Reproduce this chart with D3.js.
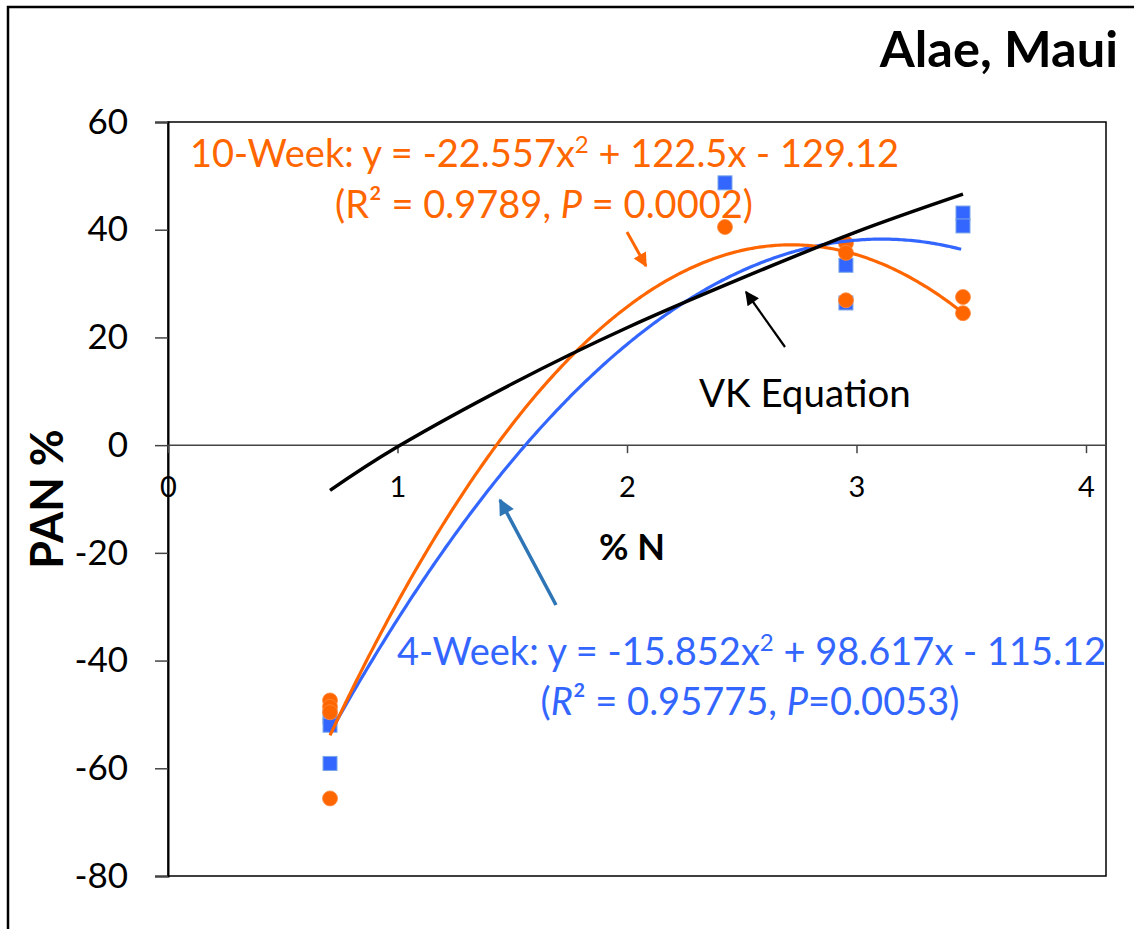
<!DOCTYPE html>
<meta charset="utf-8">
<style>
body { margin: 0; background: #fff; }
text { font-family: Lato, "Open Sans", sans-serif; }
.tick text { font-size: 35px; fill: #000; }
.xaxis .tick text { font-size: 29px; }
</style>
<svg width="1134" height="929"></svg>
<script src="https://cdn.jsdelivr.net/npm/d3@7"></script>
<script>

// data
var week4X = [0.706, 0.706, 0.706, 2.427, 2.954, 2.954, 3.464, 3.464];
var week4Y = [-50.5, -52.0, -59.1, 48.7, 33.4, 26.4, 43.1, 40.7];
var week10X = [0.706, 0.706, 0.706, 0.706, 2.427, 2.954, 2.954, 2.954, 3.464, 3.464];
var week10Y = [-47.4, -48.6, -49.6, -65.6, 40.5, 37.5, 35.7, 26.9, 27.5, 24.5];

// trendline coefficients [a, b, c] for y = a x^2 + b x + c
var week4Fit = [-15.852, 98.617, -115.12];
var week10Fit = [-22.557, 122.5, -129.12];
var fitRange = [0.706, 3.464];

// VK equation curve
var vkX = [0.706, 1.0, 1.5, 2.0, 2.5, 3.0, 3.464];
var vkY = [-8.4, -0.3, 11.4, 21.8, 31.0, 39.6, 46.6];

var xTicks = [0, 1, 2, 3, 4];
var yTicks = [-80, -60, -40, -20, 0, 20, 40, 60];

var orange = "#ff6600",
    blue = "#3366ff",
    arrowBlue = "#2e75b6";

var svg = d3.select("svg");

var x = d3.scaleLinear().domain([0, 4]).range([168, 1086]),
    y = d3.scaleLinear().domain([-80, 60]).range([876, 122]);

var plain = function(d) { return String(d); };

// outer frame
svg.append("path")
    .attr("d", "M8,929V7H1134")
    .attr("fill", "none")
    .attr("stroke", "#000")
    .attr("stroke-width", 2.5);

// plot box
svg.append("rect")
    .attr("x", 168).attr("y", 122)
    .attr("width", 1106 - 168).attr("height", 876 - 122)
    .attr("fill", "none")
    .attr("stroke", "#000")
    .attr("stroke-width", 1.5);

// y axis
var yAxis = svg.append("g")
    .attr("transform", "translate(168,0)")
    .call(d3.axisLeft(y).tickValues(yTicks).tickFormat(plain).tickSize(13).tickPadding(27));
yAxis.select(".domain").attr("stroke-width", 2);
yAxis.selectAll(".tick line").attr("stroke", "#444").attr("stroke-width", 1.5);

// x axis through y = 0
var xAxis = svg.append("g")
    .attr("class", "xaxis")
    .attr("transform", "translate(0," + y(0) + ")")
    .call(d3.axisBottom(x).tickValues(xTicks).tickFormat(plain).tickSize(8).tickPadding(23));
xAxis.select(".domain").remove();
xAxis.selectAll(".tick line").attr("stroke", "#444").attr("stroke-width", 1.5);
xAxis.append("line")
    .attr("x1", 168).attr("x2", 1106)
    .attr("stroke", "#444").attr("stroke-width", 1.5);

// markers
svg.append("g").selectAll("rect")
  .data(d3.zip(week4X, week4Y))
  .enter().append("rect")
    .attr("x", function(d) { return x(d[0]) - 7; })
    .attr("y", function(d) { return y(d[1]) - 7; })
    .attr("width", 14).attr("height", 14)
    .attr("fill", blue)
    .attr("stroke", "#7aa6e6")
    .attr("stroke-width", 1);

svg.append("g").selectAll("circle")
  .data(d3.zip(week10X, week10Y))
  .enter().append("circle")
    .attr("cx", function(d) { return x(d[0]); })
    .attr("cy", function(d) { return y(d[1]); })
    .attr("r", 7.5)
    .attr("fill", orange)
    .attr("stroke", "#ff8a40")
    .attr("stroke-width", 0.8);

// curves
var line = d3.line()
    .x(function(d) { return x(d[0]); })
    .y(function(d) { return y(d[1]); });

function quad(c) {
  return d3.range(fitRange[0], fitRange[1] + 0.001, 0.01).map(function(v) {
    return [v, c[0] * v * v + c[1] * v + c[2]];
  });
}

svg.append("path")
    .attr("d", line(quad(week4Fit)))
    .attr("fill", "none").attr("stroke", blue).attr("stroke-width", 3.2);

svg.append("path")
    .attr("d", line(quad(week10Fit)))
    .attr("fill", "none").attr("stroke", orange).attr("stroke-width", 3.2);

svg.append("path")
    .attr("d", line.curve(d3.curveNatural)(d3.zip(vkX, vkY)))
    .attr("fill", "none").attr("stroke", "#000").attr("stroke-width", 3.5);

// arrows
var defs = svg.append("defs");
function marker(id, color, w, h) {
  defs.append("marker")
      .attr("id", id)
      .attr("viewBox", "0 0 10 10")
      .attr("refX", 9).attr("refY", 5)
      .attr("markerUnits", "userSpaceOnUse")
      .attr("markerWidth", w).attr("markerHeight", h)
      .attr("orient", "auto")
    .append("path")
      .attr("d", "M0,0L10,5L0,10Z")
      .attr("fill", color);
}
marker("ha-orange", orange, 16, 14);
marker("ha-black", "#000", 16, 14);
marker("ha-blue", arrowBlue, 18, 16);

function arrow(x1, y1, x2, y2, color, id, w) {
  svg.append("line")
      .attr("x1", x1).attr("y1", y1).attr("x2", x2).attr("y2", y2)
      .attr("stroke", color).attr("stroke-width", w)
      .attr("marker-end", "url(#" + id + ")");
}
arrow(627, 232, 646, 266, orange, "ha-orange", 3);
arrow(785, 347, 746, 292, "#000", "ha-black", 2.2);
arrow(556, 605, 500, 500, arrowBlue, "ha-blue", 3.5);

// equation labels
function eq(xp, yp, anchor, color, parts) {
  var t = svg.append("text")
      .attr("x", xp).attr("y", yp)
      .attr("text-anchor", anchor)
      .attr("fill", color)
      .style("font-size", "38px");
  parts.forEach(function(p) {
    var s = t.append("tspan").text(p[0]);
    if (p[1] === "i") s.style("font-style", "italic");
    if (p[1] === "sup") s.attr("baseline-shift", "super").style("font-size", "24px");
  });
}

eq(190, 167, "start", orange, [["10-Week: y = -22.557x"], ["2", "sup"], [" + 122.5x - 129.12"]]);
eq(544, 218, "middle", orange, [["(R\u00b2 = 0.9789, "], ["P", "i"], [" = 0.0002)"]]);
eq(397, 665, "start", blue, [["4-Week: y = -15.852x"], ["2", "sup"], [" + 98.617x - 115.12"]]);
eq(750, 715, "middle", blue, [["("], ["R", "i"], ["\u00b2 = 0.95775, "], ["P", "i"], ["=0.0053)"]]);

svg.append("text")
    .attr("x", 699).attr("y", 407)
    .style("font-size", "38.5px")
    .text("VK Equation");

// titles
svg.append("text")
    .attr("x", 1118).attr("y", 67)
    .attr("text-anchor", "end")
    .style("font-size", "50.5px").style("font-weight", "bold")
    .text("Alae, Maui");

svg.append("text")
    .attr("x", 632).attr("y", 560)
    .attr("text-anchor", "middle")
    .style("font-size", "36px").style("font-weight", "bold")
    .text("% N");

svg.append("text")
    .attr("transform", "translate(63,499) rotate(-90)")
    .attr("text-anchor", "middle")
    .style("font-size", "45px").style("font-weight", "bold")
    .text("PAN %");

</script>
